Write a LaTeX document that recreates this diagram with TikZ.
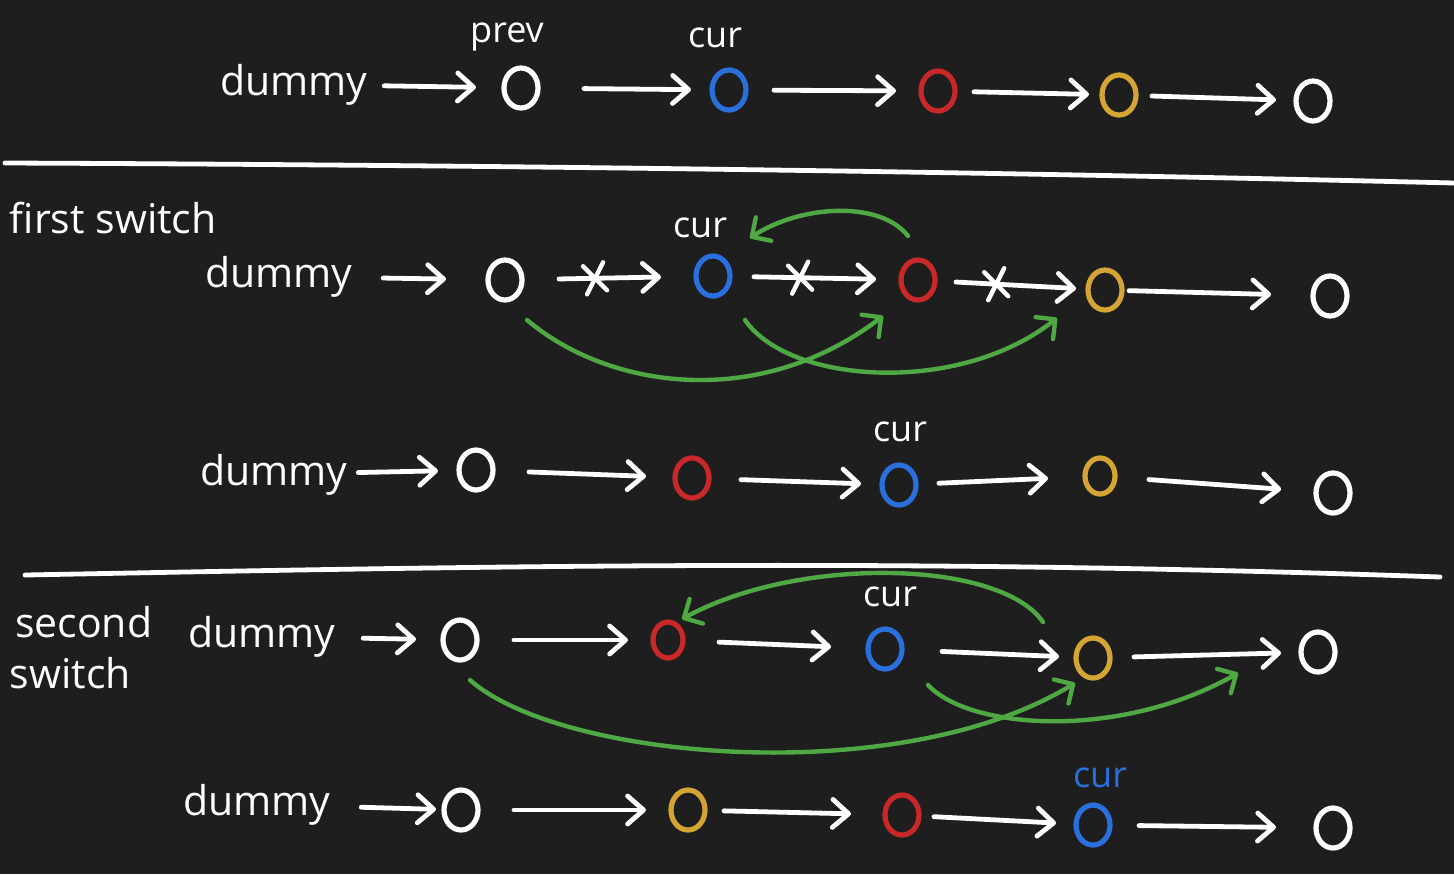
\documentclass[tikz,border=0pt]{standalone}
\usepackage{fontspec}
\setmainfont{Open Sans}
\usetikzlibrary{arrows.meta,shapes.geometric}
\definecolor{bg}{HTML}{1E1E1E}
\definecolor{cblue}{HTML}{2A6FDB}
\definecolor{cred}{HTML}{C8282A}
\definecolor{cgold}{HTML}{D4A434}
\definecolor{cgreen}{HTML}{4FA844}
\begin{document}
\begin{tikzpicture}[x=0.5pt,y=-0.5pt,
 every node/.style={inner sep=0pt, outer sep=0pt},
 txt/.style={text=white, font=\fontsize{20.5}{24}\selectfont},
 lbl/.style={text=white, font=\fontsize{18}{22}\selectfont},
 ring/.style={ellipse, draw=#1, line width=2.6pt, minimum width=17pt, minimum height=20pt},
 arr/.style={draw=white, line width=2.4pt, line cap=round, -{Straight Barb[length=8pt,width=14pt,round]}},
 garr/.style={draw=cgreen, line width=2.2pt, line cap=round, -{Straight Barb[length=7pt,width=14pt,round]}},
 sepline/.style={draw=white, line width=2.4pt, line cap=round},
 xmark/.style={coordinate},
 xstroke/.style={draw=white, line width=2.2pt, line cap=round},
]
\fill[bg] (0,0) rectangle (1454,874);
\useasboundingbox (0,0) rectangle (1454,874);

% ---------- row 1
\node[txt, anchor=base west] (d1) at (220,95) {dummy};
\node[lbl] (l1) at (507,37) {prev};
\node[lbl] (l2) at (715,38) {cur};
\node[ring=white] (a1) at (521,88) {};
\node[ring=cblue] (a2) at (729,90) {};
\node[ring=cred] (a3) at (938,91) {};
\node[ring=cgold] (a4) at (1119,95) {};
\node[ring=white] (a5) at (1313,101) {};
\draw[arr, shorten <=8.5pt, shorten >=14pt] (d1) -- (a1);
\draw[arr, shorten <=23pt, shorten >=10.5pt] (a1) -- (a2);
\draw[arr, shorten <=14pt, shorten >=12.5pt] (a2) -- (a3);
\draw[arr, shorten <=9.5pt, shorten >=6.5pt] (a3) -- (a4);
\draw[arr, shorten <=8pt, shorten >=10pt] (a4) -- (a5);

\draw[sepline] (5,163) .. controls (500,165) and (1000,172) .. (1454,183);

% ---------- row 2 (first switch)
\node[txt, anchor=base west] (t1) at (10,233) {first switch};
\node[txt, anchor=base west] (d2) at (205,287) {dummy};
\node[lbl] (l3) at (700,228) {cur};
\node[ring=white] (b1) at (505,280) {};
\node[ring=cblue] (b2) at (713,276) {};
\node[ring=cred] (b3) at (918,280) {};
\node[ring=cgold] (b4) at (1105,290) {};
\node[ring=white] (b5) at (1330,296) {};
\draw[arr, shorten <=15.5pt, shorten >=21pt] (d2) -- (b1);
\draw[arr, shorten <=18.5pt, shorten >=17.5pt] (b1) -- node[xmark, pos=0.42] (x1) {} (b2);
\draw[arr, shorten <=12pt, shorten >=12.5pt] (b2) -- node[xmark, pos=0.41] (x2) {} (b3);
\draw[arr, shorten <=10.5pt, shorten >=6pt] (b3) -- node[xmark, pos=0.40] (x3) {} (b4);
\draw[arr, shorten <=3.5pt, shorten >=21pt] (b4) -- (b5);
\foreach \m in {x1,x2,x3}{
  \draw[xstroke] ([shift={(-4pt,-8pt)}]\m) -- ([shift={(4pt,8pt)}]\m);
  \draw[xstroke] ([shift={(-6pt,6pt)}]\m) -- ([shift={(6pt,-6pt)}]\m);
}

\coordinate (g1s) at (908,236);
\coordinate (g1e) at (750,238);
\draw[garr] (g1s) .. controls (880,200) and (800,205) .. (g1e);
\coordinate (g2s) at (527,320);
\coordinate (g2e) at (883,316);
\draw[garr] (g2s) .. controls (610,390) and (760,410) .. (g2e);
\coordinate (g3s) at (745,320);
\coordinate (g3e) at (1057,318);
\draw[garr] (g3s) .. controls (790,385) and (960,395) .. (g3e);

% ---------- row 3
\node[txt, anchor=base west] (d3) at (200,485) {dummy};
\node[lbl] (l4) at (900,432) {cur};
\node[ring=white] (c1) at (476,470) {};
\node[ring=cred] (c2) at (692,478) {};
\node[ring=cblue] (c3) at (899,485) {};
\node[ring=cgold, minimum width=15pt, minimum height=18pt] (c4) at (1100,476) {};
\node[ring=white] (c5) at (1333,493) {};
\draw[arr, shorten <=5.5pt, shorten >=10.5pt] (d3) -- (c1);
\draw[arr, shorten <=18pt, shorten >=14.5pt] (c1) -- (c2);
\draw[arr, shorten <=16pt, shorten >=10.5pt] (c2) -- (c3);
\draw[arr, shorten <=11.5pt, shorten >=18.5pt] (c3) -- (c4);
\draw[arr, shorten <=17pt, shorten >=17.5pt] (c4) -- (c5);

\draw[sepline] (25,575) .. controls (500,566) and (900,558) .. (1440,577);

% ---------- row 4 (second switch)
\node[txt, anchor=base west] (t2) at (15,637) {second};
\node[txt, anchor=base west] (t3) at (10,688) {switch};
\node[txt, anchor=base west] (d4) at (188,647) {dummy};
\node[lbl] (l5) at (890,597) {cur};
\node[ring=white] (e1) at (460,640) {};
\node[ring=cred, minimum width=15pt, minimum height=18pt] (e2) at (668,640) {};
\node[ring=cblue] (e3) at (885,649) {};
\node[ring=cgold] (e4) at (1093,658) {};
\node[ring=white] (e5) at (1318,652) {};
\draw[arr, shorten <=14pt, shorten >=13.5pt] (d4) -- (e1);
\draw[arr, shorten <=18.5pt, shorten >=12.5pt] (e1) -- (e2);
\draw[arr, shorten <=18pt, shorten >=18.5pt] (e2) -- (e3);
\draw[arr, shorten <=20pt, shorten >=8.5pt] (e3) -- (e4);
\draw[arr, shorten <=12pt, shorten >=10pt] (e4) -- (e5);

\coordinate (h1s) at (1043,622);
\coordinate (h1e) at (682,619);
\draw[garr] (h1s) .. controls (1000,560) and (800,555) .. (h1e);
\coordinate (h2s) at (470,680);
\coordinate (h2e) at (1075,683);
\draw[garr] (h2s) .. controls (560,760) and (900,790) .. (h2e);
\coordinate (h3s) at (928,685);
\coordinate (h3e) at (1238,673);
\draw[garr] (h3s) .. controls (970,730) and (1120,740) .. (h3e);

% ---------- row 5
\node[txt, anchor=base west] (d5) at (183,815) {dummy};
\node[lbl, text=cblue] (l6) at (1100,778) {cur};
\node[ring=white] (f1) at (461,810) {};
\node[ring=cgold] (f2) at (688,810) {};
\node[ring=cred] (f3) at (902,815) {};
\node[ring=cblue] (f4) at (1093,825) {};
\node[ring=white] (f5) at (1333,828) {};
\draw[arr, shorten <=15.5pt, shorten >=4pt] (d5) -- (f1);
\draw[arr, shorten <=18pt, shorten >=12.5pt] (f1) -- (f2);
\draw[arr, shorten <=9.5pt, shorten >=17pt] (f2) -- (f3);
\draw[arr, shorten <=7.5pt, shorten >=10pt] (f3) -- (f4);
\draw[arr, shorten <=14.5pt, shorten >=20pt] (f4) -- (f5);
\end{tikzpicture}
\end{document}
